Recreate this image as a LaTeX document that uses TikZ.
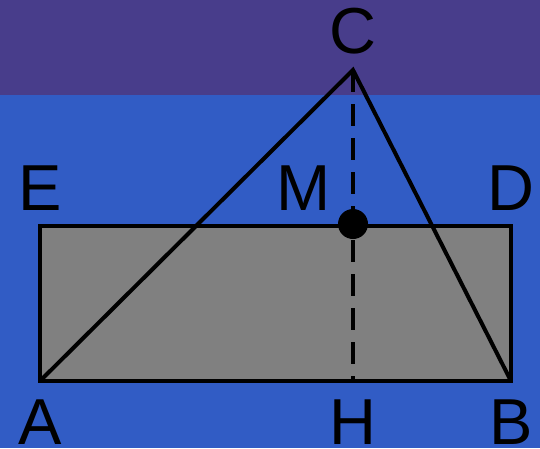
\documentclass[tikz,border=0pt]{standalone}
\usepackage{fontspec}
\setmainfont{Liberation Sans}
\definecolor{bandpurple}{HTML}{483D8B}
\definecolor{bgblue}{HTML}{315CC5}
\definecolor{boxgray}{HTML}{808080}
\begin{document}
\begin{tikzpicture}[x=1pt,y=-1pt,
  edge/.style={line width=4pt,line join=miter},
  lbl/.style={font=\fontsize{65}{65}\selectfont,inner sep=0pt,anchor=center}]
\useasboundingbox (0,0) rectangle (540,448);
\fill[bgblue] (0,0) rectangle (540,448);
\fill[bandpurple] (0,0) rectangle (540,95);
\coordinate (A) at (40,381);
\coordinate (B) at (511,381);
\coordinate (D) at (511,226);
\coordinate (E) at (40,226);
\coordinate (C) at (353,70);
\coordinate (M) at (353,224);
\coordinate (H) at (353,381);
\draw[edge,fill=boxgray] (A) -- (B) -- (D) -- (E) -- cycle;
\draw[edge] (A) -- (C) -- (B);
\draw[edge,dash pattern=on 22pt off 12pt] (C) -- (H);
\fill (M) circle (15);
\node[lbl] (lC) at (353,31) {C};
\node[lbl] (lE) at (40,188) {E};
\node[lbl] (lM) at (304,188) {M};
\node[lbl] (lD) at (511,188) {D};
\node[lbl] (lA) at (40,422) {A};
\node[lbl] (lH) at (353,422) {H};
\node[lbl] (lB) at (511,422) {B};
\end{tikzpicture}
\end{document}
